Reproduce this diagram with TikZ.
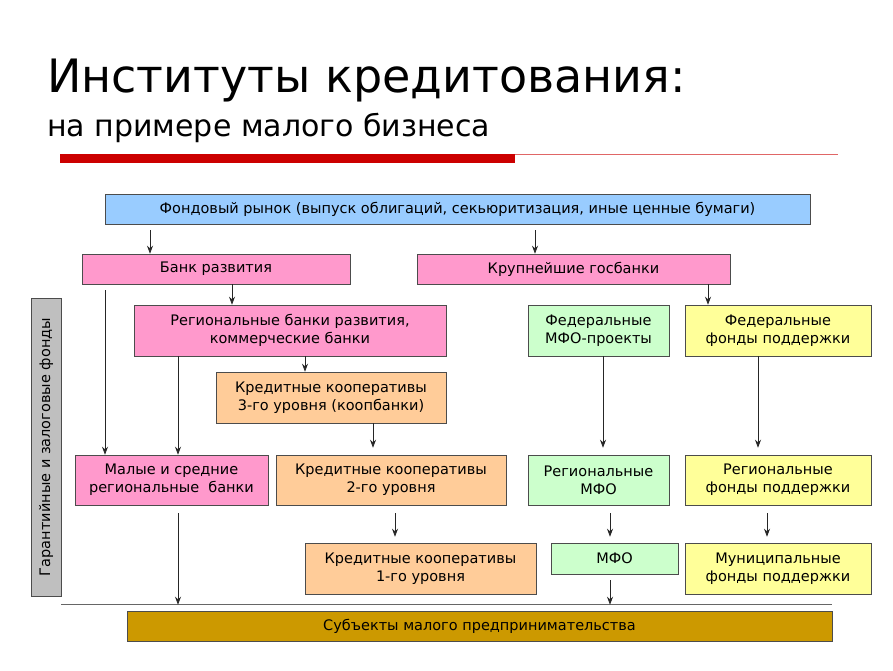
\documentclass[tikz,border=0pt]{standalone}
\usepackage{fontspec}
\setmainfont{DejaVu Sans}
\usetikzlibrary{arrows.meta}

\definecolor{fondblue}{HTML}{99CCFF}
\definecolor{bankpink}{HTML}{FF99CC}
\definecolor{coopeach}{HTML}{FFCC99}
\definecolor{mfogreen}{HTML}{CCFFCC}
\definecolor{fundyellow}{HTML}{FFFF99}
\definecolor{subjgold}{HTML}{CC9900}
\definecolor{titlered}{HTML}{CC0000}

\tikzset{
  box/.style={draw=black!70, line width=0.6pt, align=center, inner sep=1pt,
    font=\fontsize{14.5}{18}\selectfont},
  arr/.style={-{Stealth[length=8pt,width=6pt]}, line width=0.7pt, draw=black!85}
}

\begin{document}
\begin{tikzpicture}[x=1pt,y=-1pt]
  \useasboundingbox[fill=white] (0,0) rectangle (893,670);

  % title
  \node[anchor=base west, inner sep=0, font=\fontsize{46}{52}\selectfont] (title) at (47,92) {Институты кредитования:};
  \node[anchor=base west, inner sep=0, font=\fontsize{30}{34}\selectfont] (subtitle) at (47,136) {на примере малого бизнеса};
  \fill[titlered] (60,154) rectangle (515,163);
  \draw[titlered!60, line width=0.8pt] (515,154) -- (838,154);

  % boxes
  \node[box, fill=fondblue, minimum width=705, minimum height=30] (fond) at (457.5,209)
    {Фондовый рынок (выпуск облигаций, секьюритизация, иные ценные бумаги)};
  \node[box, fill=bankpink, minimum width=268, minimum height=30] (bank) at (216,269) {Банк развития};
  \node[box, fill=bankpink, minimum width=313, minimum height=30] (gos) at (573.5,269) {Крупнейшие госбанки};
  \node[box, fill=bankpink, minimum width=312, minimum height=51] (regb) at (290,330.5)
    {Региональные банки развития,\\коммерческие банки};
  \node[box, fill=coopeach, minimum width=230, minimum height=51] (kk3) at (331,397.5)
    {Кредитные кооперативы\\3-го уровня (коопбанки)};
  \node[box, fill=mfogreen, minimum width=141, minimum height=51] (fmfo) at (598.5,330.5)
    {Федеральные\\МФО-проекты};
  \node[box, fill=fundyellow, minimum width=186, minimum height=51] (ffond) at (778,330.5)
    {Федеральные\\фонды поддержки};
  \node[box, fill=bankpink, minimum width=193, minimum height=50] (msb) at (171.5,480)
    {Малые и средние\\региональные~ банки};
  \node[box, fill=coopeach, minimum width=230, minimum height=50] (kk2) at (391,480)
    {Кредитные кооперативы\\2-го уровня};
  \node[box, fill=mfogreen, minimum width=141, minimum height=50] (rmfo) at (598.5,480)
    {Региональные\\МФО};
  \node[box, fill=fundyellow, minimum width=186, minimum height=50] (rfond) at (778,480)
    {Региональные\\фонды поддержки};
  \node[box, fill=coopeach, minimum width=231, minimum height=51] (kk1) at (420.5,568.5)
    {Кредитные кооперативы\\1-го уровня};
  \node[box, fill=mfogreen, minimum width=127, minimum height=31] (mfo) at (614.5,558.5) {МФО};
  \node[box, fill=fundyellow, minimum width=186, minimum height=51] (mfond) at (778,568.5)
    {Муниципальные\\фонды поддержки};
  \node[box, fill=subjgold, minimum width=705, minimum height=30] (subj) at (479.5,626)
    {Субъекты малого предпринимательства};
  \node[box, fill=black!25, minimum width=298, minimum height=30, rotate=90] (gar) at (46,447)
    {Гарантийные и залоговые фонды};
  \draw[black!60, line width=0.6pt] (gar.south |- 0,604) -- (subj.east |- 0,604);

  % arrows
  \draw[arr] ([yshift=-6]fond.south -| 150,0) -- (bank.north -| 150,0);
  \draw[arr] ([yshift=-6]fond.south -| 535,0) -- (gos.north -| 535,0);
  \draw[arr] ([yshift=-6]bank.south -| 105,0) -- (msb.north -| 105,0);
  \draw[arr] (bank.south -| 232,0) -- (regb.north -| 232,0);
  \draw[arr] (regb.south -| 178,0) -- (msb.north -| 178,0);
  \draw[arr] (regb.south -| 305,0) -- (kk3.north -| 305,0);
  \draw[arr] (kk3.south -| 373,0) -- ([yshift=7]kk2.north -| 373,0);
  \draw[arr] (gos.south -| 708,0) -- (ffond.north -| 708,0);
  \draw[arr] (fmfo.south -| 603,0) -- ([yshift=7]rmfo.north -| 603,0);
  \draw[arr] (ffond.south -| 758,0) -- ([yshift=7]rfond.north -| 758,0);
  \draw[arr] ([yshift=-8]kk2.south -| 395,0) -- ([yshift=6]kk1.north -| 395,0);
  \draw[arr] ([yshift=-8]rmfo.south -| 610,0) -- ([yshift=6]mfo.north -| 610,0);
  \draw[arr] ([yshift=-8]rfond.south -| 767,0) -- ([yshift=6]mfond.north -| 767,0);
  \draw[arr] ([yshift=-8]msb.south -| 178,0) -- ([yshift=6]subj.north -| 178,0);
  \draw[arr] ([yshift=-6]mfo.south -| 610,0) -- ([yshift=6]subj.north -| 610,0);
\end{tikzpicture}
\end{document}
